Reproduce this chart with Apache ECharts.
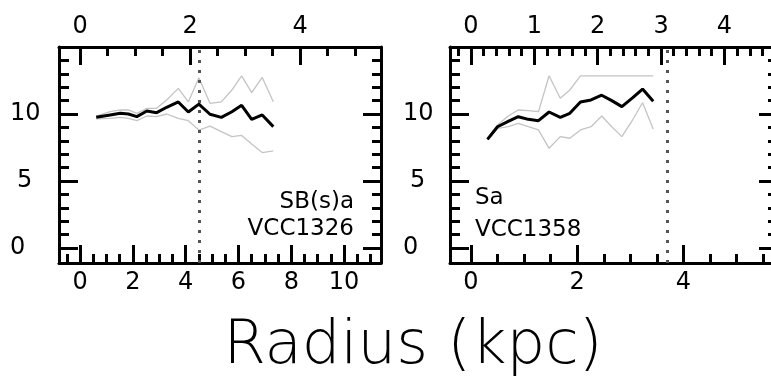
<!DOCTYPE html>
<html>
<head>
<meta charset="utf-8">
<script src="https://cdn.jsdelivr.net/npm/echarts@6/dist/echarts.min.js"></script>
<style>
  html, body { margin: 0; padding: 0; background: #fff; }
  #chart { width: 771px; height: 383px; }
</style>
</head>
<body>
<div id="chart"></div>
<script>
// ---------- data ----------
// Left panel: VCC1326, SB(s)a
const leftRadius = [0.61, 1.14, 1.52, 1.83, 2.15, 2.53, 2.9, 3.28, 3.72, 4.1, 4.5, 4.92, 5.35, 5.75, 6.12, 6.5, 6.9, 7.32];
const leftMean   = [9.75, 9.93, 10.05, 10.0, 9.8, 10.22, 10.1, 10.5, 10.9, 10.15, 10.74, 9.98, 9.75, 10.17, 10.65, 9.6, 9.93, 9.06];
const leftUpper  = [9.85, 10.17, 10.3, 10.3, 10.05, 10.42, 10.42, 11.04, 11.91, 10.9, 12.7, 10.8, 10.9, 11.79, 12.85, 11.6, 12.73, 10.92];
const leftLower  = [9.63, 9.68, 9.75, 9.68, 9.5, 9.85, 9.8, 10.0, 9.68, 9.5, 8.8, 9.1, 8.68, 8.31, 8.4, 7.77, 7.12, 7.24];
const leftDivider = 4.5;
const leftType = 'SB(s)a';
const leftName = 'VCC1326';

// Right panel: VCC1358, Sa
const rightRadius = [0.31, 0.5, 0.7, 0.89, 1.08, 1.27, 1.47, 1.68, 1.86, 2.06, 2.26, 2.46, 2.65, 2.84, 3.04, 3.23, 3.43];
const rightMean   = [8.11, 9.05, 9.45, 9.8, 9.6, 9.5, 10.15, 9.75, 10.05, 10.9, 11.05, 11.4, 11.0, 10.55, 11.2, 11.86, 10.95];
const rightUpper  = [8.2, 9.18, 9.85, 10.3, 10.25, 10.17, 12.85, 11.17, 11.79, 12.85, 12.85, 12.85, 12.85, 12.85, 12.85, 12.85, 12.85];
const rightLower  = [8.06, 8.93, 9.05, 9.3, 9.05, 8.81, 7.44, 8.31, 8.19, 8.81, 9.05, 9.85, 9.05, 8.31, 9.55, 10.84, 8.88];
const rightDivider = 3.7;
const rightType = 'Sa';
const rightName = 'VCC1358';

// tick labels / tick values
const yMajor = [0, 5, 10];
const yMinor = [1, 2, 3, 4, 6, 7, 8, 9, 11, 12, 13, 14];
const leftBottomMajor = [0, 2, 4, 6, 8, 10];
const leftBottomMinor = [-0.5, 0.5, 1, 1.5, 2.5, 3, 3.5, 4.5, 5, 5.5, 6.5, 7, 7.5, 8.5, 9, 9.5, 10.5, 11];
const leftTopMajor = [0, 2, 4];
const leftTopMinor = [0.5, 1, 1.5, 2.5, 3, 3.5, 4.5, 5];
const rightBottomMajor = [0, 2, 4];
const rightBottomMinor = [0.5, 1, 1.5, 2.5, 3, 3.5, 4.5, 5, 5.5];
const rightTopMajor = [0, 1, 2, 3, 4];
const rightTopMinor = [-0.2, 0.2, 0.4, 0.6, 0.8, 1.2, 1.4, 1.6, 1.8, 2.2, 2.4, 2.6, 2.8, 3.2, 3.4, 3.6, 3.8, 4.2, 4.4, 4.6];

// ---------- layout / style ----------
const FONT = "'DejaVu Sans', sans-serif";
const LBL = 24;
const yRange = [-1.12, 15];
const leftX = [-0.8, 11.4], leftTop = [-0.384, 5.473];
const rightX = [-0.395, 5.76], rightTop = [-0.33, 4.83];

function mkAxis(o) {
  return {
    type: 'value', gridIndex: o.grid, position: o.pos, min: o.range[0], max: o.range[1],
    axisLine: { show: !!o.line, onZero: false, lineStyle: { color: '#000', width: 3 } },
    axisTick: { show: true, inside: true, length: o.len, customValues: o.ticks,
                lineStyle: { color: '#000', width: 3 } },
    axisLabel: o.labels ? {
      show: true, customValues: o.labels, margin: o.margin, color: '#000',
      fontSize: LBL, fontFamily: FONT, align: o.align,
      formatter: o.formatter || (v => String(v)),
      rich: o.rich
    } : { show: false },
    splitLine: { show: false },
    minorTick: { show: false }
  };
}
const yRich = { p: { padding: [0, 0, 0, 7], fontSize: LBL, fontFamily: FONT, color: '#000' } };
const yFmt = v => (v === 5 ? '{p|5}' : String(v));

const xAxes = [
  mkAxis({ grid: 0, pos: 'bottom', range: leftX, line: true, len: 18, ticks: leftBottomMajor, labels: leftBottomMajor, margin: 8 }),
  mkAxis({ grid: 0, pos: 'bottom', range: leftX, len: 9, ticks: leftBottomMinor }),
  mkAxis({ grid: 0, pos: 'top', range: leftTop, line: true, len: 18, ticks: leftTopMajor, labels: leftTopMajor, margin: 8 }),
  mkAxis({ grid: 0, pos: 'top', range: leftTop, len: 9, ticks: leftTopMinor }),
  mkAxis({ grid: 1, pos: 'bottom', range: rightX, line: true, len: 18, ticks: rightBottomMajor, labels: rightBottomMajor, margin: 8 }),
  mkAxis({ grid: 1, pos: 'bottom', range: rightX, len: 9, ticks: rightBottomMinor }),
  mkAxis({ grid: 1, pos: 'top', range: rightTop, line: true, len: 18, ticks: rightTopMajor, labels: rightTopMajor, margin: 8 }),
  mkAxis({ grid: 1, pos: 'top', range: rightTop, len: 9, ticks: rightTopMinor })
];
const yAxes = [
  mkAxis({ grid: 0, pos: 'left', range: yRange, line: true, len: 19, ticks: yMajor, labels: yMajor, margin: 49, align: 'left', formatter: yFmt, rich: yRich }),
  mkAxis({ grid: 0, pos: 'left', range: yRange, len: 10, ticks: yMinor }),
  mkAxis({ grid: 0, pos: 'right', range: yRange, line: true, len: 18, ticks: yMajor }),
  mkAxis({ grid: 0, pos: 'right', range: yRange, len: 9, ticks: yMinor }),
  mkAxis({ grid: 1, pos: 'left', range: yRange, line: true, len: 19, ticks: yMajor, labels: yMajor, margin: 47, align: 'left', formatter: yFmt, rich: yRich }),
  mkAxis({ grid: 1, pos: 'left', range: yRange, len: 10, ticks: yMinor }),
  mkAxis({ grid: 1, pos: 'right', range: yRange, line: true, len: 18, ticks: yMajor }),
  mkAxis({ grid: 1, pos: 'right', range: yRange, len: 9, ticks: yMinor })
];

const pairs = (xs, ys) => xs.map((x, i) => [x, ys[i]]);
function lineSeries(xi, yi, xs, ys, color, width, divider) {
  const s = {
    type: 'line', xAxisIndex: xi, yAxisIndex: yi, data: pairs(xs, ys),
    showSymbol: false, symbol: 'none', silent: true,
    lineStyle: { color: color, width: width }, z: width > 2 ? 5 : 3
  };
  if (divider !== undefined) {
    s.markLine = {
      symbol: 'none', silent: true, label: { show: false },
      lineStyle: { color: '#555', width: 3, type: [3, 7], opacity: 1 },
      data: [{ xAxis: divider }]
    };
  }
  return s;
}
const GRAY = '#c4c4c4';
const series = [
  lineSeries(0, 0, leftRadius, leftUpper, GRAY, 1.3),
  lineSeries(0, 0, leftRadius, leftLower, GRAY, 1.3),
  lineSeries(0, 0, leftRadius, leftMean, '#000', 3, leftDivider),
  lineSeries(4, 4, rightRadius, rightUpper, GRAY, 1.3),
  lineSeries(4, 4, rightRadius, rightLower, GRAY, 1.3),
  lineSeries(4, 4, rightRadius, rightMean, '#000', 3, rightDivider)
];

const textStyle = (t, align) => ({ text: t, fontSize: 23, fontFamily: FONT, fill: '#000', align: align, verticalAlign: 'middle' });

const chart = echarts.init(document.getElementById('chart'), null, { renderer: 'canvas' });
chart.setOption({
  animation: false,
  backgroundColor: '#fff',
  grid: [
    { left: 59, top: 47, width: 322, height: 216, containLabel: false, outerBoundsMode: 'none' },
    { left: 450, top: 47, width: 327, height: 216, containLabel: false, outerBoundsMode: 'none' }
  ],
  xAxis: xAxes,
  yAxis: yAxes,
  series: series,
  graphic: [
    { type: 'text', x: 354, y: 202, style: textStyle(leftType, 'right') },
    { type: 'text', x: 354, y: 229, style: textStyle(leftName, 'right') },
    { type: 'text', x: 475, y: 198, style: textStyle(rightType, 'left') },
    { type: 'text', x: 475, y: 230, style: textStyle(rightName, 'left') },
    { type: 'text', x: 413, y: 347, style: { text: 'Radius (kpc)', fontSize: 61, fontFamily: FONT, fontWeight: 200, fill: '#000', align: 'center', verticalAlign: 'middle' } }
  ]
});
</script>
</body>
</html>
